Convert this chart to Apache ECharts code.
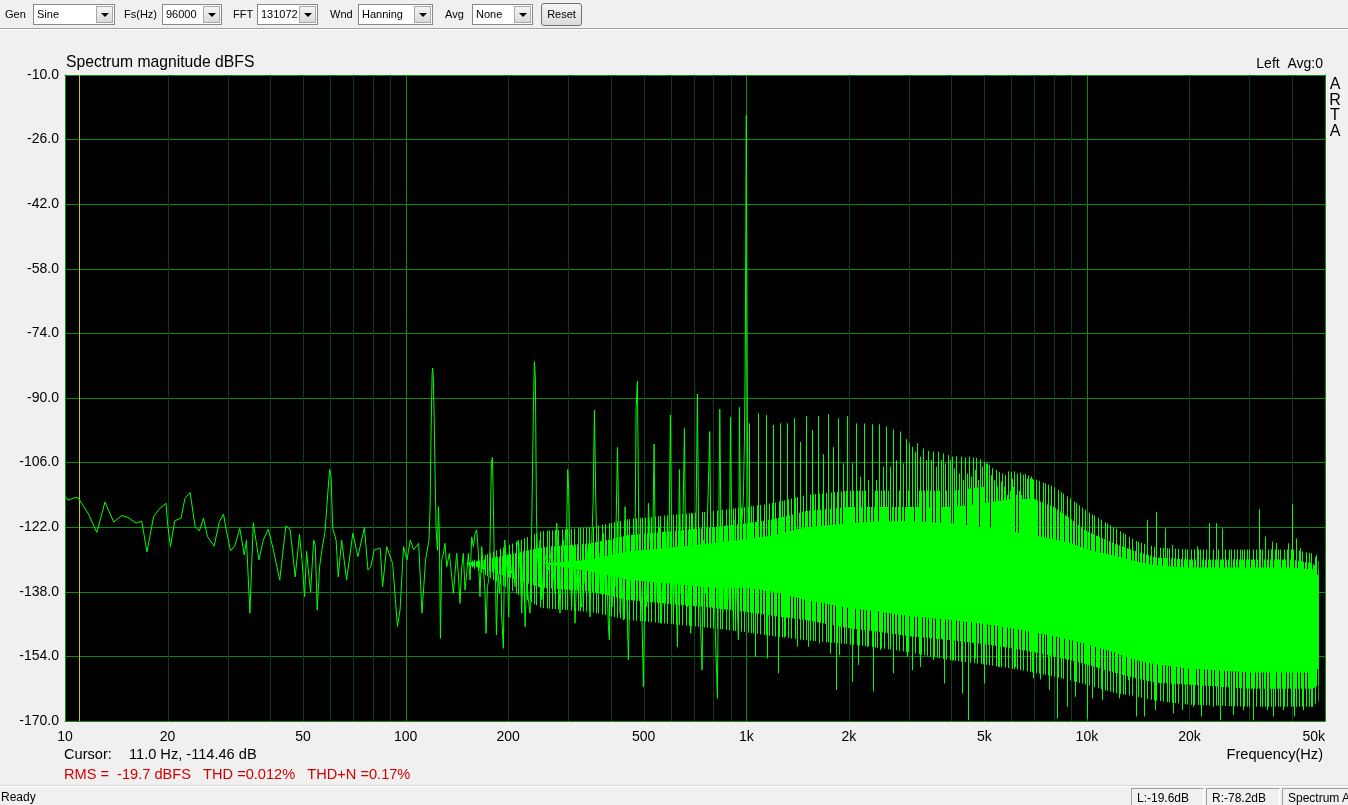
<!DOCTYPE html>
<html>
<head>
<meta charset="utf-8">
<title>Spectrum magnitude dBFS</title>
<script src="https://cdn.jsdelivr.net/npm/echarts@6.0.0/dist/echarts.min.js"></script>
<style>
  html, body { margin:0; padding:0; width:1348px; height:805px; overflow:hidden; background:#f0f0f0; }
  #chart { position:absolute; left:0; top:0; width:1348px; height:805px; }
  .ui { position:absolute; font-family:'Liberation Sans', Arial, sans-serif; font-size:11px; color:#000; white-space:nowrap; }
  .lbl { top:8px; }
  .sel { top:4px; height:21px; box-sizing:border-box; border:1px solid #828790; background:#fff; }
  .sel span { position:absolute; left:3px; top:3px; }
  .sel i { position:absolute; right:1px; top:1px; width:17px; height:17px; box-sizing:border-box; background:linear-gradient(#f4f4f4,#dadada); border:1px solid #a8a8a8; }
  .sel i:after { content:''; position:absolute; left:4px; top:6px; border-left:4px solid transparent; border-right:4px solid transparent; border-top:4px solid #000; }
  .btn { top:3px; height:23px; box-sizing:border-box; border:1px solid #707070; border-radius:3px; background:linear-gradient(#f4f4f4,#dcdcdc); text-align:center; line-height:20px; }
  .line { position:absolute; left:0; width:1348px; height:1px; }
  .panel { position:absolute; top:788px; height:20px; box-sizing:border-box; border:1px solid; border-color:#a0a0a0 #ffffff #ffffff #a0a0a0; font-size:12px; }
  .panel span { position:absolute; left:5px; top:2px; }
</style>
</head>
<body>
<div id="chart"></div>

<!-- toolbar -->
<div class="line" style="top:28px;background:#a0a0a0"></div>
<div class="line" style="top:29px;background:#ffffff"></div>
<div class="ui lbl" style="left:5px">Gen</div>
<div class="ui sel" style="left:33px;width:82px"><span>Sine</span><i></i></div>
<div class="ui lbl" style="left:124px">Fs(Hz)</div>
<div class="ui sel" style="left:162px;width:60px"><span>96000</span><i></i></div>
<div class="ui lbl" style="left:233px">FFT</div>
<div class="ui sel" style="left:257px;width:61px"><span>131072</span><i></i></div>
<div class="ui lbl" style="left:330px">Wnd</div>
<div class="ui sel" style="left:358px;width:75px"><span>Hanning</span><i></i></div>
<div class="ui lbl" style="left:445px">Avg</div>
<div class="ui sel" style="left:472px;width:61px"><span>None</span><i></i></div>
<div class="ui btn" style="left:541px;width:41px">Reset</div>

<!-- status bar -->
<div class="line" style="top:785px;background:#d8d8d8"></div>
<div class="line" style="top:786px;background:#ffffff"></div>
<div class="ui" style="left:1px;top:790px;font-size:12px">Ready</div>
<div class="ui panel" style="left:1131px;width:73px"><span>L:-19.6dB</span></div>
<div class="ui panel" style="left:1206px;width:74px"><span>R:-78.2dB</span></div>
<div class="ui panel" style="left:1282px;width:80px"><span>Spectrum A</span></div>

<script>
// ---------------- data (Hz, dBFS) ----------------
const xTickLabels = [10, 20, 50, 100, 200, 500, 1000, 2000, 5000, 10000, 20000, 50000];
const minorGridHz = [20,30,40,50,60,70,80,90,200,300,400,500,600,700,800,900,
                     2000,3000,4000,5000,6000,7000,8000,9000,20000,30000,40000];
const decadeGridHz = [100, 1000, 10000];
const cursorHz = [11];

// main trace 10 Hz .. ~1 kHz
const lowTrace = [
 [10.0,-114.3],[10.2,-115.3],[10.6,-114.8],[10.9,-114.6],[11.7,-118.6],[12.4,-123.3],[13.1,-115.8],[13.9,-120.7],
 [14.7,-119.1],[15.3,-119.6],[16.2,-121.0],[16.8,-120.5],[17.4,-128.1],[18.2,-119.4],[19.0,-117.3],[19.8,-116.1],
 [20.0,-121.0],[20.4,-126.8],[21.0,-120.4],[21.9,-119.8],[22.5,-114.9],[23.3,-113.4],[23.6,-113.8],[24.1,-121.9],
 [24.8,-122.9],[25.5,-119.8],[26.2,-124.3],[27.4,-126.7],[28.4,-120.6],[29.2,-118.8],[29.8,-123.1],[30.6,-127.8],
 [31.5,-126.7],[32.6,-122.3],[33.6,-128.9],[34.1,-125.2],[34.9,-143.3],[35.7,-120.9],[37.1,-130.1],[38.2,-125.2],
 [39.5,-122.5],[40.8,-127.2],[42.7,-135.1],[44.5,-121.7],[45.8,-122.5],[47.4,-134.3],[48.8,-123.8],[49.6,-130.0],
 [50.5,-139.2],[51.2,-128.0],[51.9,-133.4],[52.6,-138.0],[53.7,-125.2],[54.3,-126.5],[55.0,-142.5],[55.9,-131.8],
 [56.8,-127.5],[58.0,-123.1],[58.7,-116.9],[59.8,-107.7],[60.4,-109.5],
 [61.1,-122.3],[62.5,-125.2],[63.4,-134.3],[64.9,-125.2],[67.1,-135.1],[70.0,-123.5],[72.4,-129.3],[75.7,-122.1],
 [77.5,-132.6],[79.0,-131.8],[80.9,-127.6],[84.2,-127.2],[85.6,-136.7],[88.0,-126.8],[91.6,-131.0],[94.6,-146.6],
 [96.3,-142.5],[98.6,-126.8],[100.9,-130.1],[103.2,-125.2],[105.6,-127.6],[109.2,-126.0],[111.7,-143.3],[114.4,-130.1],
 [117.1,-125.2],[118.0,-117.0],[118.8,-98.0],[119.6,-84.0],[120.0,-82.6],[120.6,-85.0],[121.3,-95.0],[122.0,-108.7],
 [122.9,-122.7],[124.0,-127.7],[124.8,-116.9],[125.6,-123.5],[126.5,-149.5],[127.6,-130.1],[129.1,-128.5],[130.5,-126.0],
 [132.0,-131.8],[134.4,-128.5],[136.6,-134.3],[138.1,-138.4],[139.6,-133.4],[141.2,-128.5],[142.8,-133.4],[144.4,-140.9],
 [146.1,-131.8],[147.7,-128.5],[149.4,-137.6],[151.1,-133.4],[152.8,-128.5],[154.5,-135.1],[156.3,-124.4],[158.1,-126.8],
 [159.9,-123.5],[161.7,-122.7],[163.5,-128.5],[165.3,-139.2],[167.2,-126.8],[169.1,-131.8],[171.1,-138.4],[172.2,-148.3],
 [173.8,-136.7],[175.4,-135.1],[176.9,-126.8],[178.5,-106.2],[179.8,-104.7],[181.0,-116.9],[182.2,-131.8],[183.4,-132.6],
 [184.7,-148.7],[186.8,-133.4],[188.5,-138.4],[190.2,-131.8],[191.4,-144.2],[193.6,-152.0],[195.4,-125.2],[197.1,-129.3],
 [198.9,-133.4],[200.7,-144.2],[202.5,-130.1],[204.8,-133.4],[207.2,-131.8],[209.5,-136.7],[211.9,-126.8],[214.3,-125.2],
 [216.7,-131.8],[219.2,-143.3],[221.7,-128.5],[224.2,-146.6],[226.7,-135.1],[229.3,-140.0],[231.9,-143.3],[234.5,-121.9],
 [237.1,-93.8],[238.8,-81.0],[240.4,-85.5],[242.1,-118.6],[243.7,-128.5],[245.9,-133.4],[248.1,-125.2],[250.9,-140.0],
 [253.8,-133.4],[256.6,-130.1],[259.6,-128.5],[262.5,-132.6],[265.5,-130.1],[268.5,-126.8],[271.5,-133.4],[274.6,-138.4],
 [277.7,-121.0],[280.9,-131.8],[284.0,-143.3],[287.2,-126.8],[290.5,-125.2],[293.8,-133.4],[297.1,-121.9],[299.1,-107.7],
 [301.2,-112.8],[303.9,-133.4],[307.3,-141.7],[310.8,-126.8],[314.3,-145.8],[317.9,-133.4],[321.5,-128.5],[325.1,-138.4],
 [328.8,-141.7],[332.6,-128.5],[336.3,-135.9],[340.2,-126.8],[344.0,-131.8],[347.9,-144.2],[351.9,-125.2],[355.1,-116.1],
 [358.3,-93.0],[361.5,-114.4],[365.6,-133.4],[368.9,-138.4],[372.2,-128.5],[376.4,-133.4],[380.7,-123.5],[385.0,-138.4],
 [389.4,-133.4],[393.8,-146.6],[396.5,-149.9],[400.1,-125.2],[403.7,-141.7],[407.4,-126.8],[412.0,-136.7],[414.8,-121.9],
 [418.6,-102.2],[422.3,-120.2],[426.1,-143.3],[430.9,-133.4],[435.8,-145.0],[440.8,-116.9],[445.8,-138.4],[450.8,-154.9],
 [456.0,-133.4],[461.1,-128.5],[466.4,-138.4],[471.6,-125.2],[474.8,-92.6],[479.1,-85.8],[483.4,-121.9],[487.8,-133.4],
 [493.3,-141.7],[498.9,-161.5],[504.6,-133.4],[510.3,-141.7],[516.1,-116.1],[521.9,-125.2],[530.2,-133.4],[536.2,-101.4],
 [541.0,-129.3],[548.4,-140.0],[555.9,-121.9],[563.4,-145.8],[571.1,-126.8],[578.9,-138.4],[586.8,-120.2],[592.1,-133.4],
 [598.8,-94.2],[604.2,-126.8],[611.1,-145.0],[619.4,-125.2],[627.9,-151.6],[636.5,-107.7],[643.7,-138.4],[651.0,-123.5],
 [658.4,-97.5],[664.3,-133.4],[671.8,-141.7],[679.4,-125.2],[687.1,-148.3],[694.9,-118.6],[702.8,-140.0],[710.7,-126.8],
 [718.8,-89.0],[725.3,-126.8],[733.6,-145.8],[741.9,-157.4],[750.2,-125.2],[758.6,-138.4],[769.0,-120.2],[781.3,-98.3],
 [790.2,-141.7],[800.9,-128.5],[810.0,-146.6],[823.0,-164.4],[830.4,-123.5],[836.0,-92.8],[843.6,-126.8],[853.2,-143.3],
 [862.9,-121.9],[872.7,-137.6],[882.6,-125.2],[890.6,-140.0],[898.6,-94.8],[906.7,-128.5],[917.0,-146.6],[927.4,-120.2],
 [937.6,-138.4],[948.3,-149.9],[954.7,-92.3],[963.4,-125.2],[972.1,-120.2],[980.9,-114.4],[987.4,-100.4],[993,-81],
 [997,-48],[1000,-20],[1003,-48],[1007,-94],[1012,-120],[1016,-130]
];

// broadband noise floor (150 Hz .. 48 kHz): outer ragged limits, inner dense limits, solid core
const bandHz     = [150, 250, 350, 450, 600, 800, 1000, 1200, 1500, 2000, 2500, 3000, 4000, 5000, 6000, 7000, 8000, 9000, 10000, 12000, 14000, 16000, 20000, 30000, 40000, 46000, 47900];
const outerTopDb = [-131,-123,-122,-120,-119,-118,-117,-116,-114,-113,-113,-113,-113,-112,-110,-110,-112,-115,-118,-122,-125.5,-127,-127.5,-127.5,-127.5,-128.5,-130.5];
const innerTopDb = [-131,-127,-126,-124,-123,-122,-121,-120,-118,-117,-117,-117,-117,-116,-115,-115,-117,-120,-123,-126,-128,-129.5,-130,-130,-130,-131,-132.5];
const coreTopDb  = [-131,-131,-130,-128,-127,-126,-125,-124,-122,-121,-120.5,-120.5,-121,-122,-123,-124,-125,-126,-127.5,-129,-130.5,-131.5,-132,-132,-132,-132.5,-134];
const coreBotDb  = [-131,-131,-133,-135,-136,-137,-137,-138,-140,-142,-143,-144,-145,-146,-147,-148,-149,-150,-151,-153,-155,-156,-157,-158,-158,-158,-157];
const innerBotDb = [-131,-137,-138,-140,-141,-142,-143,-144,-145,-147,-148,-149,-150,-151,-152,-153,-154,-155,-156,-158,-159.5,-160.5,-161,-162,-162,-162,-161];
const outerBotDb = [-131,-142,-143,-145,-146,-147,-148,-149,-150,-151,-152,-153,-155,-156,-157,-158,-159,-160,-161,-163,-164,-165,-166,-166.5,-166.5,-166.5,-165];

// 60 Hz related harmonic comb above 1 kHz
const combHz = [1020,1080,1140,1200,1260,1320,1380,1440,1500,1560,1620,1680,1740,1800,1860,1920,1980,2040,2100,2160,
 2220,2280,2340,2400,2460,2520,2580,2640,2700,2760,2820,2880,2940,3000,3060,3120,3180,3240,3300,3360,3420,3480,3540,3600,
 3660,3720,3780,3840,3900,3960,4020,4080,4140,4200,4260,4320,4380,4440,4500,4560,4620,4680,4740,4800,4860,4920,4980,5040,
 5100,5160,5220,5280,5340,5400,5460,5520,5580,5640,5700,5760,5820,5880,5940,6000,6060,6120,6180,6240,6300,6360,6420,6480,
 6540,6600,6660,6720,6780,6840,6900,6960];
const combDb = [-96.3,-93.8,-94.2,-96.7,-96.3,-96.3,-95.0,-100.9,-94.5,-97.9,-94.5,-103.9,-94.0,-102.1,-95.0,-106.2,-94.5,-106.2,-96.3,-109.5,
 -96.3,-110.3,-96.5,-110.3,-96.5,-107.0,-97.1,-107.0,-97.8,-105.4,-98.3,-106.2,-100.2,-101.2,-102.1,-103.3,-101.2,-104.5,-102.5,-105.4,-103.1,-105.4,-103.3,-107.0,
 -103.3,-105.4,-103.7,-106.2,-104.1,-105.4,-104.5,-107.4,-104.4,-108.7,-104.5,-110.3,-104.8,-108.7,-104.5,-109.5,-104.8,-107.8,-104.8,-110.3,-105.2,-107.0,-105.8,-106.2,
 -106.2,-106.6,-109.1,-107.4,-110.3,-107.8,-112.0,-108.3,-113.0,-108.7,-112.0,-109.1,-114.0,-108.2,-113.0,-108.3,-112.0,-108.2,-114.0,-108.7,-113.0,-108.5,-114.0,-109.0,
 -115.0,-108.8,-116.0,-109.2,-117.0,-109.5,-117.0,-110.3];

// isolated tones above the floor (> 10 kHz)
const toneHz = [15000,15900,16900,17800,21000,22900,23900,25000,28500,32000,33400,34900,35900,38900,40000,41000,42300,46900];
const toneDb = [-120.2,-118.2,-122.3,-126.4,-126.7,-121.0,-121.0,-122.3,-127.6,-117.5,-124.3,-125.6,-125.9,-126.0,-116.3,-124.8,-127.2,-128.9];

// deep minima of the noise floor
const dipHz = [1062,1148,1243,1300,1407,1522,1640,1762,1830,1877,2049,2134,2267,2351,2471,2704,2958,3074,3238,3543,3808,4057,4311,4490,
 4708,5003,5257,5500,5884,6155,6381,6966,7288,7714,8194,8727,9234,9987,10380,11060,11700,12460,13240,13920,14720,15860,16770,17950,
 18990,20550,21640,23520,24610,26930,28820,30830,33750,35290,37760,40590,43220,45730];
const dipDb = [-154.1,-154.5,-158.2,-149.1,-151.6,-151.6,-150.8,-153.3,-162.3,-153.7,-160.3,-156.1,-151.6,-162.7,-152.4,-158.2,-154.1,-157.4,-156.6,-154.9,-160.7,-154.9,-163.2,-169.8,
 -154.5,-160.7,-155.7,-156.6,-156.1,-156.6,-156.6,-159.4,-159.7,-162.3,-169.4,-166.5,-164.0,-169.4,-164.4,-164.8,-161.9,-164.4,-159.9,-168.9,-168.9,-167.3,-164.8,-168.1,
 -167.3,-166.5,-168.9,-166.5,-169.8,-168.5,-167.3,-169.8,-167.3,-168.9,-167.3,-168.9,-167.3,-166.5];

// ---------------- chart ----------------
const GREEN = '#00ff00';
const FONT = '"Liberation Sans", Arial, sans-serif';
const FRAME = '#118a11';

// vertical-stripe textures that imitate a dense FFT line trace
function stripePattern(cols, width) {
  const c = document.createElement('canvas');
  c.width = width; c.height = 1;
  const ctx = c.getContext('2d');
  ctx.fillStyle = GREEN;
  cols.forEach(function (x) { ctx.fillRect(x, 0, 1, 1); });
  return { image: c, repeat: 'repeat' };
}
const sparseTexture = stripePattern([0, 4, 7, 9, 13, 16, 20, 22, 25, 28], 31);
const denseTexture = stripePattern([0, 1, 3, 4, 6, 8, 9, 11, 12, 14, 16, 17, 19, 20, 22, 24, 25, 27, 28, 30], 31);

function vLineRender(color) {
  return function (params, api) {
    const f = api.value(0);
    const a = api.coord([f, -10]);
    const b = api.coord([f, -170]);
    const x = Math.round(a[0]) + 0.5;
    return { type: 'line', silent: true, shape: { x1: x, y1: a[1], x2: x, y2: b[1] }, style: { stroke: color, lineWidth: 1 } };
  };
}
function spikeRender(baseDb) {
  return function (params, api) {
    const f = api.value(0);
    const a = api.coord([f, api.value(1)]);
    const b = api.coord([f, baseDb]);
    const x = Math.round(a[0]) + 0.5;
    return { type: 'line', silent: true, shape: { x1: x, y1: a[1], x2: x, y2: b[1] }, style: { stroke: GREEN, lineWidth: 1 } };
  };
}
// one polygon between an upper and a lower envelope (dims: 0 = Hz, 1 = upper dB, 2 = lower dB)
function bandRender(fill) {
  return function (params, api) {
    if (params.dataIndexInside !== 0) return null;
    const n = params.dataInsideLength;
    const pts = [];
    for (let i = 0; i < n; i++) pts.push(api.coord([api.value(0, i), api.value(1, i)]));
    for (let i = n - 1; i >= 0; i--) pts.push(api.coord([api.value(0, i), api.value(2, i)]));
    return { type: 'polygon', silent: true, shape: { points: pts }, style: { fill: fill } };
  };
}
function bandData(top, bot) { return bandHz.map(function (f, i) { return [f, top[i], bot[i]]; }); }
function txt(text, x, y, size, align, color) {
  return { type: 'text', x: x, y: y, silent: true,
    style: { text: text, font: size + 'px ' + FONT, fill: color || '#000',
             align: align || 'left', verticalAlign: 'middle', textAlign: align || 'left', textVerticalAlign: 'middle' } };
}

const chart = echarts.init(document.getElementById('chart'), null, { renderer: 'canvas' });
chart.setOption({
  animation: false,
  backgroundColor: '#f0f0f0',
  grid: { left: 65, top: 75, width: 1260, height: 646, show: true, backgroundColor: '#000', borderWidth: 0, containLabel: false },
  xAxis: [{
    type: 'log', logBase: 10, min: 10, max: 50000,
    axisLine: { show: true, lineStyle: { color: FRAME, width: 1 } },
    axisTick: { show: false }, splitLine: { show: false }, minorTick: { show: false },
    axisLabel: { customValues: xTickLabels, color: '#000', fontSize: 14, fontFamily: FONT, margin: 9, alignMaxLabel: 'right',
      formatter: function (v) { v = Math.round(v); return v >= 1000 ? (v / 1000) + 'k' : String(v); } }
  }, {
    type: 'log', logBase: 10, min: 10, max: 50000, position: 'top',
    axisLine: { show: true, lineStyle: { color: FRAME, width: 1 } },
    axisTick: { show: false }, splitLine: { show: false }, axisLabel: { show: false }
  }],
  yAxis: [{
    type: 'value', min: -170, max: -10, interval: 16,
    axisLine: { show: true, lineStyle: { color: FRAME, width: 1 } },
    axisTick: { show: false },
    splitLine: { show: true, lineStyle: { color: '#0d8a0d', width: 1 } },
    axisLabel: { color: '#000', fontSize: 14, fontFamily: FONT, margin: 6, formatter: function (v) { return v.toFixed(1); } }
  }, {
    type: 'value', min: -170, max: -10, interval: 16, position: 'right',
    axisLine: { show: true, lineStyle: { color: FRAME, width: 1 } },
    axisTick: { show: false }, splitLine: { show: false }, axisLabel: { show: false }
  }],
  series: [
    { type: 'custom', name: 'grid minor', z: 1, clip: true, renderItem: vLineRender('#0b3f0b'),
      encode: { x: 0, y: 1 }, data: minorGridHz.map(function (f) { return [f, -170]; }) },
    { type: 'custom', name: 'grid decade', z: 1, clip: true, renderItem: vLineRender('#0d8a0d'),
      encode: { x: 0, y: 1 }, data: decadeGridHz.map(function (f) { return [f, -170]; }) },
    { type: 'custom', name: 'cursor', z: 2, clip: true, renderItem: vLineRender('#c8c800'),
      encode: { x: 0, y: 1 }, data: cursorHz.map(function (f) { return [f, -170]; }) },

    { type: 'custom', name: 'floor outer', z: 3, clip: true, renderItem: bandRender(sparseTexture),
      encode: { x: 0, y: [1, 2] }, data: bandData(outerTopDb, outerBotDb) },
    { type: 'custom', name: 'floor inner', z: 3, clip: true, renderItem: bandRender(denseTexture),
      encode: { x: 0, y: [1, 2] }, data: bandData(innerTopDb, innerBotDb) },
    { type: 'custom', name: 'floor core', z: 4, clip: true, renderItem: bandRender(GREEN),
      encode: { x: 0, y: [1, 2] }, data: bandData(coreTopDb, coreBotDb) },

    { type: 'line', name: 'spectrum', z: 5, symbol: 'none', silent: true, clip: true,
      lineStyle: { color: GREEN, width: 1 }, data: lowTrace },
    { type: 'custom', name: 'comb', z: 5, clip: true, renderItem: spikeRender(-135),
      encode: { x: 0, y: 1 }, data: combHz.map(function (f, i) { return [f, combDb[i]]; }) },
    { type: 'custom', name: 'tones', z: 5, clip: true, renderItem: spikeRender(-135),
      encode: { x: 0, y: 1 }, data: toneHz.map(function (f, i) { return [f, toneDb[i]]; }) },
    { type: 'custom', name: 'dips', z: 5, clip: true, renderItem: spikeRender(-135),
      encode: { x: 0, y: 1 }, data: dipHz.map(function (f, i) { return [f, dipDb[i]]; }) }
  ],
  graphic: [
    txt('Spectrum magnitude dBFS', 66, 63, 15.7),
    txt('Left  Avg:0', 1323, 64, 14, 'right'),
    txt('A', 1335, 85, 16, 'center'),
    txt('R', 1335, 101, 16, 'center'),
    txt('T', 1335, 116, 16, 'center'),
    txt('A', 1335, 132, 16, 'center'),
    txt('Cursor:', 64, 755, 14.6),
    txt('11.0 Hz, -114.46 dB', 129, 755, 14.6),
    txt('Frequency(Hz)', 1323, 755, 14.6, 'right'),
    txt('RMS =  -19.7 dBFS   THD =0.012%   THD+N =0.17%', 64, 775, 14.6, 'left', '#d40000')
  ]
});
</script>
</body>
</html>
